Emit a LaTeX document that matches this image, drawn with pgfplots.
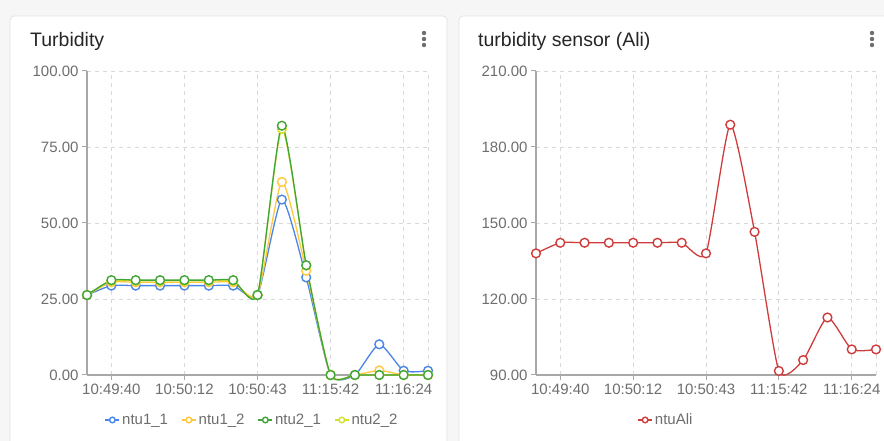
\documentclass[border=0pt]{standalone}
\usepackage{pgfplots}
\pgfplotsset{compat=1.18}
\usepackage{pgfplotstable}
\usepackage{fontspec}
\setmainfont{Liberation Sans}
\definecolor{cblue}{HTML}{4A86E8}
\definecolor{cgold}{HTML}{FFC83D}
\definecolor{cgreen}{HTML}{3FA535}
\definecolor{clime}{HTML}{D4E02B}
\definecolor{cred}{HTML}{D03C3C}
\definecolor{bgc}{HTML}{F6F6F6}
\definecolor{cardb}{HTML}{E2E2E2}
\definecolor{gridc}{HTML}{D8D8D8}
\definecolor{axc}{HTML}{A8A8A8}
\definecolor{tickc}{HTML}{6E6E6E}
\definecolor{titlec}{HTML}{262626}

\pgfplotstableread{
idx n11 n12 n21 n22
0 26.3 26.3 26.3 26.3
1 29.4 30.5 31.2 31.0
2 29.4 30.5 31.2 31.0
3 29.4 30.5 31.2 31.0
4 29.4 30.5 31.2 31.0
5 29.4 30.5 31.2 31.0
6 29.4 30.5 31.2 31.0
7 26.3 26.3 26.3 26.3
8 57.7 63.5 82.0 81.0
9 32.1 34.3 36.1 36.0
10 0 0 0 0
11 0 0 0 0
12 10.1 1.5 0 0
13 1.4 0 0 0
14 1.4 0 0 0
}\lefttab

\pgfplotstableread{
idx ali
0 138.0
1 142.2
2 142.2
3 142.2
4 142.2
5 142.2
6 142.2
7 138.0
8 188.8
9 146.5
10 91.6
11 95.9
12 112.7
13 100.1
14 100.1
}\righttab

\pgfplotsset{
  dash/.style={
    scale only axis,
    height=304pt,
    xmin=0, xmax=14,
    xtick={1,4,7,10,13},
    xticklabels={10:49:40,10:50:12,10:50:43,11:15:42,11:16:24},
    extra x ticks={14},
    extra x tick labels={},
    extra x tick style={grid=major, tick style={draw=none}},
    axis x line*=bottom,
    axis y line*=left,
    axis line style={-, draw=axc, line width=1.4pt},
    grid=major,
    major grid style={draw=gridc, line width=0.9pt, dash pattern=on 4pt off 4pt},
    tick align=outside,
    major tick length=5pt,
    tick style={draw=axc, line width=1pt},
    ticklabel style={font=\fontsize{15}{18}\selectfont, text=tickc},
    /pgf/number format/assume math mode=true,
    yticklabel style={/pgf/number format/.cd, fixed, fixed zerofill, precision=2},
    clip=false,
    legend columns=-1,
    legend style={draw=none, fill=none, font=\fontsize{15}{18}\selectfont, text=tickc,
      /tikz/every even column/.append style={column sep=11pt}, anchor=center},
    legend image code/.code={
      \draw[##1, mark=none, line width=1.6pt] (0pt,0pt) -- (14pt,0pt);
      \draw[##1, only marks, mark size=2.8pt] plot coordinates {(7pt,0pt)};
    },
    every axis plot/.append style={line width=1.3pt, smooth, tension=0.35},
  },
  ser/.style={draw=#1, mark=*, mark size=4.4pt, mark options={fill=white, draw=#1, line width=1.4pt, solid}},
}

\begin{document}
\begin{tikzpicture}
\path[use as bounding box, clip] (0pt,0pt) rectangle (884pt,441pt);
\fill[bgc] (0pt,0pt) rectangle (884pt,441pt);
% cards
\filldraw[fill=white, draw=cardb, line width=0.8pt, rounded corners=4pt] (10pt,-20pt) rectangle (447pt,425pt);
\filldraw[fill=white, draw=cardb, line width=0.8pt, rounded corners=4pt] (459pt,-20pt) rectangle (900pt,425pt);
% titles
\node[anchor=base west, inner sep=0pt, text=titlec, font=\fontsize{19.5}{22}\selectfont] at (30pt,394pt) {Turbidity};
\node[anchor=base west, inner sep=0pt, text=titlec, font=\fontsize{19.5}{22}\selectfont] at (478pt,394pt) {turbidity sensor (Ali)};
% menu dots
\foreach \yy in {408,402,396} {
  \fill[tickc] (424pt,\yy pt) circle (2.2pt);
  \fill[tickc] (872pt,\yy pt) circle (2.2pt);
}

\begin{axis}[dash, at={(87pt,66pt)}, anchor=south west, width=341pt,
  ymin=0, ymax=100, ytick={0,25,50,75,100},
  legend style={at={(0.484,-0.148)}}]
\addlegendimage{ser=cblue}\addlegendentry{ntu1\_1}
\addlegendimage{ser=cgold}\addlegendentry{ntu1\_2}
\addlegendimage{ser=cgreen}\addlegendentry{ntu2\_1}
\addlegendimage{ser=clime}\addlegendentry{ntu2\_2}
\addplot[ser=cblue, forget plot] table[x=idx, y=n11] {\lefttab};
\addplot[ser=cgold, forget plot] table[x=idx, y=n12] {\lefttab};
\addplot[ser=clime, forget plot] table[x=idx, y=n22] {\lefttab};
\addplot[ser=cgreen, forget plot] table[x=idx, y=n21] {\lefttab};
\end{axis}

\begin{axis}[dash, at={(536pt,66pt)}, anchor=south west, width=340pt,
  ymin=90, ymax=210, ytick={90,120,150,180,210},
  legend style={at={(0.382,-0.148)}}]
\addplot[ser=cred] table[x=idx, y=ali] {\righttab};
\addlegendentry{ntuAli}
\end{axis}
\end{tikzpicture}
\end{document}
